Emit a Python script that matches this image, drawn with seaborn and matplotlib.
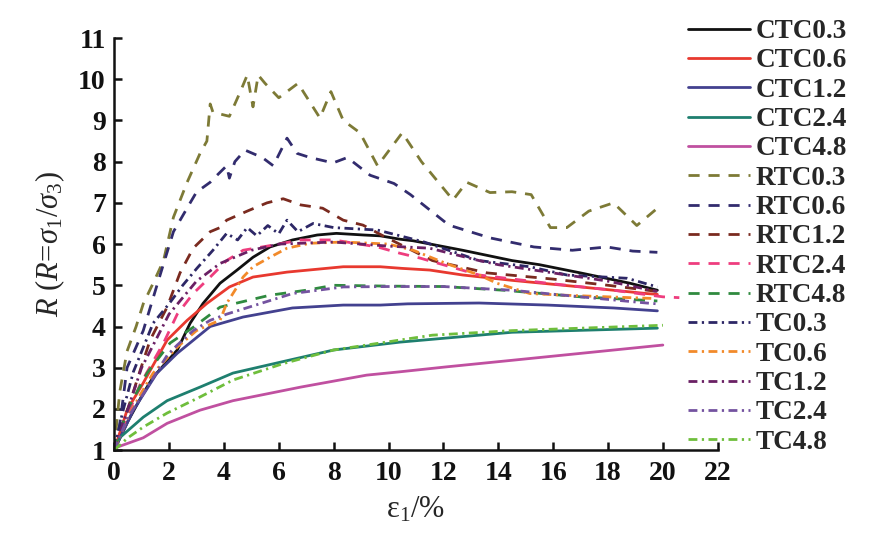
import matplotlib
matplotlib.use('Agg')
import matplotlib.pyplot as plt
import numpy as np
import pandas as pd
import seaborn as sns

# strain (%) and principal stress ratio
ctc03_x = [0, 0.5, 1.06, 1.42, 2.3, 2.77, 3.24, 3.86, 4.48, 5.06, 5.68, 6.5, 7.4, 8.1, 9.1, 9.7, 10.4, 10.9, 12.7, 14.5, 15.5, 17, 18.8, 19.8]
ctc03_y = [1, 1.7, 2.38, 2.77, 3.43, 4.08, 4.56, 5.05, 5.37, 5.68, 5.93, 6.1, 6.22, 6.26, 6.22, 6.2, 6.12, 6.08, 5.85, 5.6, 5.5, 5.3, 5.05, 4.88]
ctc06_x = [0, 0.47, 1.06, 1.93, 2.66, 3.38, 4.2, 5.06, 6.3, 8.35, 9.7, 10.5, 11.5, 12.7, 14.5, 17, 19.4, 19.8]
ctc06_y = [1, 1.97, 2.63, 3.67, 4.15, 4.56, 4.96, 5.2, 5.32, 5.45, 5.45, 5.41, 5.37, 5.25, 5.12, 4.96, 4.8, 4.78]
ctc12_x = [0, 0.7, 1.56, 2.3, 3.5, 4.7, 6.5, 8.35, 9.7, 10.7, 13.3, 15.8, 18.2, 19.8]
ctc12_y = [1, 1.97, 2.87, 3.35, 4.0, 4.23, 4.45, 4.52, 4.52, 4.55, 4.57, 4.52, 4.45, 4.38]
ctc24_x = [0, 0.2, 1.06, 1.93, 3.13, 4.33, 5.57, 8.0, 10.4, 14.5, 19.8]
ctc24_y = [1, 1.3, 1.8, 2.2, 2.53, 2.87, 3.06, 3.43, 3.62, 3.86, 3.96]
ctc48_x = [0, 0.1, 1.06, 1.93, 3.13, 4.33, 6.8, 9.2, 10.4, 12.1, 14.5, 20]
ctc48_y = [1, 1.07, 1.3, 1.65, 1.97, 2.2, 2.53, 2.82, 2.9, 3.02, 3.18, 3.55]

rtc03_x = [0, 0.2, 0.47, 0.8, 1.06, 1.42, 1.8, 2.16, 2.66, 3.13, 3.38, 3.5, 3.6, 4.2, 4.6, 4.85, 5.06, 5.25, 5.5, 6.0, 6.7, 7.5, 7.9, 8.35, 8.96, 9.6, 10.5, 11.2, 12.35, 12.85, 13.7, 14.5, 15.2, 15.9, 16.5, 17.3, 18.2, 19.05, 19.8]
rtc03_y = [1, 2.4, 3.4, 4.0, 4.55, 5.05, 5.6, 6.65, 7.5, 8.2, 8.5, 9.4, 9.2, 9.1, 9.7, 10.1, 9.33, 10.1, 9.9, 9.55, 9.9, 9.06, 9.7, 9.0, 8.7, 7.9, 8.7, 8.0, 7.07, 7.5, 7.25, 7.27, 7.2, 6.4, 6.4, 6.8, 7.0, 6.45, 6.87]
rtc06_x = [0, 0.2, 0.47, 1.06, 1.56, 2.16, 2.77, 3.0, 3.5, 3.75, 4.1, 4.2, 4.4, 4.77, 5.4, 5.8, 6.3, 6.67, 7.14, 7.98, 8.5, 9.33, 10.2, 10.8, 11.5, 12.2, 13.7, 15.3, 16.7, 17.96, 18.9, 19.8]
rtc06_y = [1, 1.6, 3.0, 3.9, 5.0, 6.3, 7.0, 7.26, 7.5, 7.67, 7.9, 7.6, 8.0, 8.28, 8.1, 7.9, 8.57, 8.2, 8.1, 7.97, 8.1, 7.67, 7.47, 7.2, 6.83, 6.46, 6.15, 5.93, 5.85, 5.93, 5.83, 5.8]
rtc12_x = [0, 0.5, 0.95, 1.31, 1.93, 2.4, 2.88, 3.5, 3.86, 4.1, 4.85, 5.57, 6.16, 6.8, 7.6, 8.35, 9.07, 9.8, 10.4, 11.6, 13.6, 16, 18, 19.8]
rtc12_y = [1, 2.0, 2.94, 3.67, 4.47, 5.3, 5.9, 6.3, 6.4, 6.58, 6.8, 7.0, 7.1, 6.95, 6.87, 6.58, 6.46, 6.2, 6.0, 5.6, 5.3, 5.15, 5.0, 4.85]
rtc24_x = [0, 0.4, 0.95, 1.8, 2.3, 2.88, 3.5, 4.1, 4.7, 5.57, 6.8, 8.0, 9.6, 10.4, 11.15, 13.3, 15.8, 18.2, 20, 20.6]
rtc24_y = [1, 1.7, 2.6, 3.6, 4.3, 4.8, 5.2, 5.6, 5.85, 5.95, 6.1, 6.1, 5.93, 5.78, 5.66, 5.25, 5.05, 4.88, 4.72, 4.7]
rtc48_x = [0, 0.5, 1.2, 2.04, 2.88, 3.86, 4.48, 5.68, 7.0, 8.0, 10, 12, 14.2, 17, 19.8]
rtc48_y = [1, 2.0, 2.87, 3.6, 3.98, 4.47, 4.57, 4.76, 4.88, 5.0, 4.98, 4.97, 4.88, 4.72, 4.62]

tc03_x = [0, 0.3, 0.7, 1.42, 2.0, 2.5, 3.0, 3.6, 4.1, 4.5, 4.85, 5.2, 5.6, 6.0, 6.3, 6.7, 7.25, 8.0, 9.6, 11.3, 13.3, 15.15, 16.5, 18.7, 19.8]
tc03_y = [1, 1.9, 2.9, 4.08, 4.55, 5.0, 5.4, 5.85, 6.26, 6.1, 6.4, 6.2, 6.45, 6.25, 6.58, 6.3, 6.5, 6.4, 6.34, 6.05, 5.6, 5.45, 5.25, 5.17, 4.96]
tc06_x = [0, 0.5, 1.0, 1.42, 2.3, 3.0, 3.6, 3.86, 4.1, 4.48, 4.7, 5.06, 5.68, 6.3, 7.14, 8.35, 10.0, 10.9, 12.1, 13.3, 13.95, 15.15, 16.4, 18.8, 19.7]
tc06_y = [1, 1.8, 2.4, 2.87, 3.5, 3.9, 4.08, 4.15, 4.56, 4.96, 5.2, 5.45, 5.68, 5.9, 6.02, 6.05, 6.0, 5.85, 5.53, 5.25, 5.05, 4.8, 4.76, 4.7, 4.68]
tc12_x = [0, 0.5, 1.0, 2.0, 3.0, 3.86, 5.0, 6.0, 8.0, 10, 11.5, 13.3, 14, 16, 18, 19.8]
tc12_y = [1, 2.0, 3.0, 4.3, 5.1, 5.53, 5.85, 6.0, 6.05, 5.95, 5.9, 5.6, 5.5, 5.3, 5.1, 4.85]
tc24_x = [0, 0.5, 1.0, 1.93, 2.3, 2.88, 3.5, 4.1, 5.3, 6.5, 8.35, 10, 12, 14.5, 17, 19.4, 19.8]
tc24_y = [1, 1.8, 2.3, 3.3, 3.55, 3.9, 4.15, 4.3, 4.55, 4.8, 4.96, 4.97, 4.97, 4.88, 4.72, 4.57, 4.55]
tc48_x = [0, 0.5, 1.06, 1.93, 3.13, 4.33, 6.16, 8.0, 11.6, 14.5, 20]
tc48_y = [1, 1.3, 1.56, 1.9, 2.29, 2.7, 3.1, 3.43, 3.79, 3.9, 4.03]

names = ['CTC0.3', 'CTC0.6', 'CTC1.2', 'CTC2.4', 'CTC4.8',
         'RTC0.3', 'RTC0.6', 'RTC1.2', 'RTC2.4', 'RTC4.8',
         'TC0.3', 'TC0.6', 'TC1.2', 'TC2.4', 'TC4.8']
xs = [ctc03_x, ctc06_x, ctc12_x, ctc24_x, ctc48_x,
      rtc03_x, rtc06_x, rtc12_x, rtc24_x, rtc48_x,
      tc03_x, tc06_x, tc12_x, tc24_x, tc48_x]
ys = [ctc03_y, ctc06_y, ctc12_y, ctc24_y, ctc48_y,
      rtc03_y, rtc06_y, rtc12_y, rtc24_y, rtc48_y,
      tc03_y, tc06_y, tc12_y, tc24_y, tc48_y]
colors = ['#111111', '#e8392f', '#43418f', '#1e7f6f', '#c050a0',
          '#7d7a36', '#322c6e', '#7a2a1f', '#ee3d7e', '#2f8a3f',
          '#2d2766', '#f28a2a', '#6a2064', '#7453a0', '#6fbe3c']

sns.set_style('ticks')
plt.rcParams['font.family'] = ['Liberation Serif', 'DejaVu Serif']
plt.rcParams['mathtext.fontset'] = 'custom'
plt.rcParams['mathtext.rm'] = 'Liberation Serif'
plt.rcParams['mathtext.it'] = 'Liberation Serif:italic'

fig = plt.figure(figsize=(8.85, 5.43), dpi=100)
ax = fig.add_axes([0.129, 0.171, 0.682, 0.759])

dash_style = (4.0, 3.2)
dashdot_style = (3.2, 1.6, 0.8, 1.6)
for i, name in enumerate(names):
    df = pd.DataFrame({'x': xs[i], 'y': ys[i]})
    if name.startswith('CTC'):
        ls = '-'
    elif name.startswith('RTC'):
        ls = (0, dash_style)
    else:
        ls = (0, dashdot_style)
    sns.lineplot(data=df, x='x', y='y', ax=ax, color=colors[i], label=name,
                 linewidth=2.0, sort=False, estimator=None, linestyle=ls)

ax.set_xlim(0, 22)
ax.set_ylim(1, 11)
ax.set_xticks(np.arange(0, 23, 2))
ax.set_yticks(np.arange(1, 12, 1))
for s in ['top', 'right']:
    ax.spines[s].set_visible(False)
for s in ['left', 'bottom']:
    ax.spines[s].set_linewidth(1.8)
    ax.spines[s].set_color('#111111')
ax.tick_params(direction='in', length=6, width=1.8, labelsize=20, colors='#111111')
ax.tick_params(axis='x', pad=8)
ax.tick_params(axis='y', pad=6)
for lab in ax.get_xticklabels() + ax.get_yticklabels():
    lab.set_fontweight('bold')

ax.set_xlabel('ε$_1$/%', fontsize=22, labelpad=6)
ax.set_ylabel(r'$R\ (R\!=\!\sigma_1/\sigma_3)$', fontsize=22, labelpad=8)

leg = ax.legend(loc='upper left', bbox_to_anchor=(688 / 885, 1 - 19 / 543),
                bbox_transform=fig.transFigure, frameon=False,
                handlelength=2.3, handletextpad=0.2, labelspacing=0.16,
                borderpad=0, borderaxespad=0,
                prop={'family': 'Liberation Serif', 'weight': 'bold', 'size': 19.5})

fig.savefig('out.png', dpi=100)
